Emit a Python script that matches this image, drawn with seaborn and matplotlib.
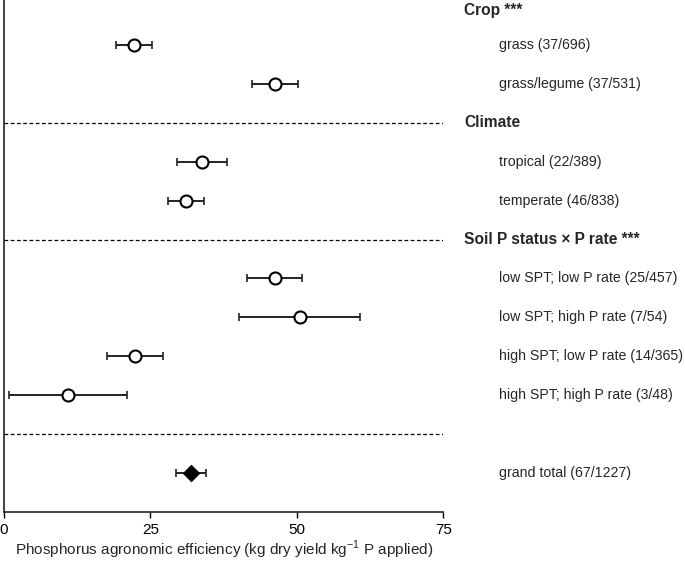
import matplotlib
matplotlib.use("Agg")
import matplotlib.pyplot as plt
import matplotlib.transforms as mtransforms
import seaborn as sns
import pandas as pd

# categories and their row positions (top to bottom)
labels = ["grass (37/696)", "grass/legume (37/531)",
          "tropical (22/389)", "temperate (46/838)",
          "low SPT; low P rate (25/457)", "low SPT; high P rate (7/54)",
          "high SPT; low P rate (14/365)", "high SPT; high P rate (3/48)",
          "grand total (67/1227)"]
rows = [1, 2, 4, 5, 7, 8, 9, 10, 12]
means = [22.2, 46.2, 33.8, 31.1, 46.2, 50.5, 22.3, 10.9, 31.9]
ci_low = [19.1, 42.4, 29.5, 28.0, 41.5, 40.1, 17.5, 0.9, 29.4]
ci_high = [25.2, 50.2, 38.0, 34.2, 50.9, 60.8, 27.2, 21.0, 34.5]
kind = ["group"] * 8 + ["total"]

headers = ["Crop ***", "Climate", "Soil P status × P rate ***"]
header_rows = [0.12, 3, 6]
divider_rows = [3, 6, 11]

df = pd.DataFrame({"label": labels, "row": rows, "mean": means,
                   "lo": ci_low, "hi": ci_high, "kind": kind})

sns.set_style("ticks")
plt.rcParams["font.family"] = ["Liberation Sans", "DejaVu Sans"]
plt.rcParams["mathtext.fontset"] = "custom"
plt.rcParams["mathtext.rm"] = "Liberation Sans"

fig = plt.figure(figsize=(6.85, 5.64), dpi=100)
ax = fig.add_axes([0.006, 0.092, 0.641, 0.908])

# dashed separators
for r in divider_rows:
    ax.axhline(r, color="black", lw=0.9, ls=(0, (3, 2)), zorder=1)

# confidence intervals
ax.errorbar(df["mean"], df["row"],
            xerr=[df["mean"] - df["lo"], df["hi"] - df["mean"]],
            fmt="none", ecolor="#222222", elinewidth=1.4, capsize=3,
            capthick=1.2, zorder=2)

grp = df[df["kind"] == "group"]
tot = df[df["kind"] == "total"]
sns.scatterplot(data=grp, x="mean", y="row", ax=ax, marker="o", s=75,
                facecolor="white", edgecolor="black", linewidth=1.5,
                zorder=3, legend=False)
sns.scatterplot(data=tot, x="mean", y="row", ax=ax, marker="D", s=70,
                color="black", edgecolor="black", zorder=3, legend=False)

ax.set_xlim(0, 75)
ax.set_ylim(13, -0.15)
ax.set_xticks([0, 25, 50, 75])
ax.set_yticks([])
ax.set_ylabel("")
ax.tick_params(axis="x", labelsize=11, length=4, width=1, colors="black", pad=4)
ax.set_xlabel("Phosphorus agronomic efficiency (kg dry yield kg$^{\\mathrm{-1}}$ P applied)",
              fontsize=11, labelpad=1)
for s in ["top", "right"]:
    ax.spines[s].set_visible(False)
for s in ["left", "bottom"]:
    ax.spines[s].set_linewidth(1.2)
    ax.spines[s].set_color("#222222")

trans = mtransforms.blended_transform_factory(ax.transAxes, ax.transData)
for h, r in zip(headers, header_rows):
    ax.text(1.048, r, h, transform=trans, fontsize=11.2, fontweight="bold",
            va="center", ha="left", clip_on=False)
for lab, r in zip(labels, rows):
    ax.text(1.128, r, lab, transform=trans, fontsize=10.2,
            va="center", ha="left", clip_on=False)

fig.savefig("out.png", dpi=100)
